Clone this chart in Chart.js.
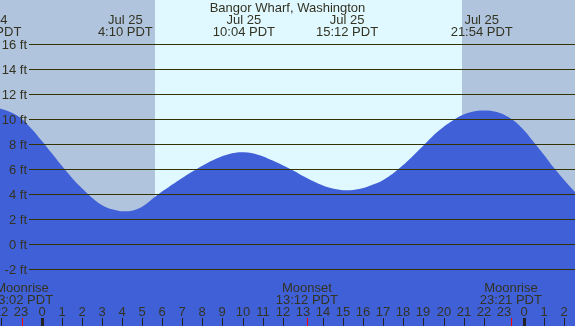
<!DOCTYPE html>
<html>
<head>
<meta charset="utf-8">
<script src="https://cdn.jsdelivr.net/npm/chart.js@4"></script>
<style>
  html, body { margin: 0; padding: 0; background: #fff; }
  #wrap { width: 575px; height: 326px; }
</style>
</head>
<body>
<div id="wrap"><canvas id="tide-chart"></canvas></div>
<script>
// tide curve (hours from midnight Jul 25, feet)
const tideHours = [-2.065, -1.5, -1, -0.5, 0, 0.5, 1, 1.5, 2, 2.5, 3, 3.5, 4.17, 4.8, 5.3, 5.8, 6.3, 7, 7.7, 8.5, 9.3, 10.07, 10.8, 11.5, 12.4, 13.2, 14, 14.6, 15.2, 15.8, 16.4, 17, 17.7, 18.4, 19, 19.7, 20.5, 21.2, 21.9, 22.6, 23.3, 23.9, 24.5, 25, 25.5, 26, 26.54];
const tideFeet  = [10.86, 10.55, 10.05, 9.25, 8.3, 7.3, 6.3, 5.35, 4.5, 3.75, 3.15, 2.8, 2.64, 2.85, 3.35, 4.0, 4.55, 5.3, 6.0, 6.7, 7.2, 7.36, 7.15, 6.7, 6.0, 5.3, 4.7, 4.42, 4.32, 4.42, 4.72, 5.15, 5.95, 6.95, 7.9, 9.0, 9.95, 10.5, 10.7, 10.6, 10.1, 9.3, 8.15, 7.15, 6.1, 5.15, 4.19];

// high / low labels at the top
const extremeHours = [-2.55, 4.17, 10.07, 15.2, 21.9];
const extremeDates = ['Jul 24', 'Jul 25', 'Jul 25', 'Jul 25', 'Jul 25'];
const extremeTimes = ['21:33 PDT', '4:10 PDT', '10:04 PDT', '15:12 PDT', '21:54 PDT'];

// moon events
const moonHours = [-0.97, 13.2, 23.35];
const moonNames = ['Moonrise', 'Moonset', 'Moonrise'];
const moonTimes = ['23:02 PDT', '13:12 PDT', '23:21 PDT'];

// sun: daylight band
const sunrise = 5.65;
const sunset = 20.92;

const yTicks = [16, 14, 12, 10, 8, 6, 4, 2, 0, -2];
const hourTicks = [-2, -1, 0, 1, 2, 3, 4, 5, 6, 7, 8, 9, 10, 11, 12, 13, 14, 15, 16, 17, 18, 19, 20, 21, 22, 23, 24, 25, 26];

const FONT = '13px "Liberation Sans", Arial, sans-serif';
const TEXT = '#333322';

const tidePlugin = {
    id: 'tideDecor',
    beforeDatasetsDraw(chart) {
        const { ctx, chartArea: a, scales: { x } } = chart;
        ctx.save();
        ctx.fillStyle = '#b0c4de';
        ctx.fillRect(a.left, a.top, a.right - a.left, a.bottom - a.top);
        const x1 = Math.round(x.getPixelForValue(sunrise));
        const x2 = Math.round(x.getPixelForValue(sunset));
        ctx.fillStyle = '#e0f8ff';
        ctx.fillRect(x1, a.top, x2 - x1, a.bottom - a.top);
        ctx.restore();
    },
    afterDatasetsDraw(chart) {
        const { ctx, chartArea: a, scales: { x, y } } = chart;
        ctx.save();
        ctx.font = FONT;
        ctx.textBaseline = 'alphabetic';

        // horizontal lines + ft labels
        yTicks.forEach(v => {
            const py = Math.round(y.getPixelForValue(v)) + 0.5;
            ctx.strokeStyle = '#333300';
            ctx.lineWidth = 1;
            ctx.beginPath();
            ctx.moveTo(29, py);
            ctx.lineTo(a.right, py);
            ctx.stroke();
            ctx.fillStyle = TEXT;
            ctx.textAlign = 'right';
            ctx.fillText(v + ' ft', 27, py + 4.5);
        });

        // title
        ctx.textAlign = 'center';
        ctx.fillStyle = TEXT;
        ctx.fillText('Bangor Wharf, Washington', (a.left + a.right) / 2, 12);

        // high / low labels
        extremeHours.forEach((h, i) => {
            const px = x.getPixelForValue(h);
            ctx.fillText(extremeDates[i], px, 24);
            ctx.fillText(extremeTimes[i], px, 36);
        });

        // moon labels
        moonHours.forEach((h, i) => {
            const px = x.getPixelForValue(h);
            ctx.fillText(moonNames[i], px, 292);
            ctx.fillText(moonTimes[i], px, 304);
        });

        // hour labels and ticks
        const moonSlots = moonHours.map(h => Math.floor(h));
        hourTicks.forEach(h => {
            const px = Math.round(x.getPixelForValue(h));
            ctx.fillStyle = TEXT;
            ctx.fillText(String(((h % 24) + 24) % 24), px, 316);
            if (moonSlots.includes(h)) return;
            ctx.fillStyle = '#222';
            if (h % 24 === 0) ctx.fillRect(px - 1, 318, 3, 8);
            else ctx.fillRect(px, 318, 1, 8);
        });
        ctx.fillStyle = '#ff0000';
        moonHours.forEach(h => {
            const px = Math.round(x.getPixelForValue(h));
            ctx.fillRect(px, 318, 1, 8);
        });
        ctx.restore();
    }
};

new Chart(document.getElementById('tide-chart').getContext('2d'), {
    type: 'line',
    data: {
        datasets: [{
            data: tideHours.map((h, i) => ({ x: h, y: tideFeet[i] })),
            borderWidth: 0,
            borderColor: 'rgba(0,0,0,0)',
            backgroundColor: '#4060d8',
            fill: 'start',
            pointRadius: 0,
            tension: 0.4
        }]
    },
    options: {
        responsive: true,
        maintainAspectRatio: false,
        animation: false,
        layout: { padding: 0 },
        plugins: { legend: { display: false }, tooltip: { enabled: false } },
        scales: {
            x: { type: 'linear', min: -2.065, max: 26.54, display: false },
            y: { min: -6.536, max: 19.544, display: false }
        }
    },
    plugins: [tidePlugin]
});
</script>
</body>
</html>
